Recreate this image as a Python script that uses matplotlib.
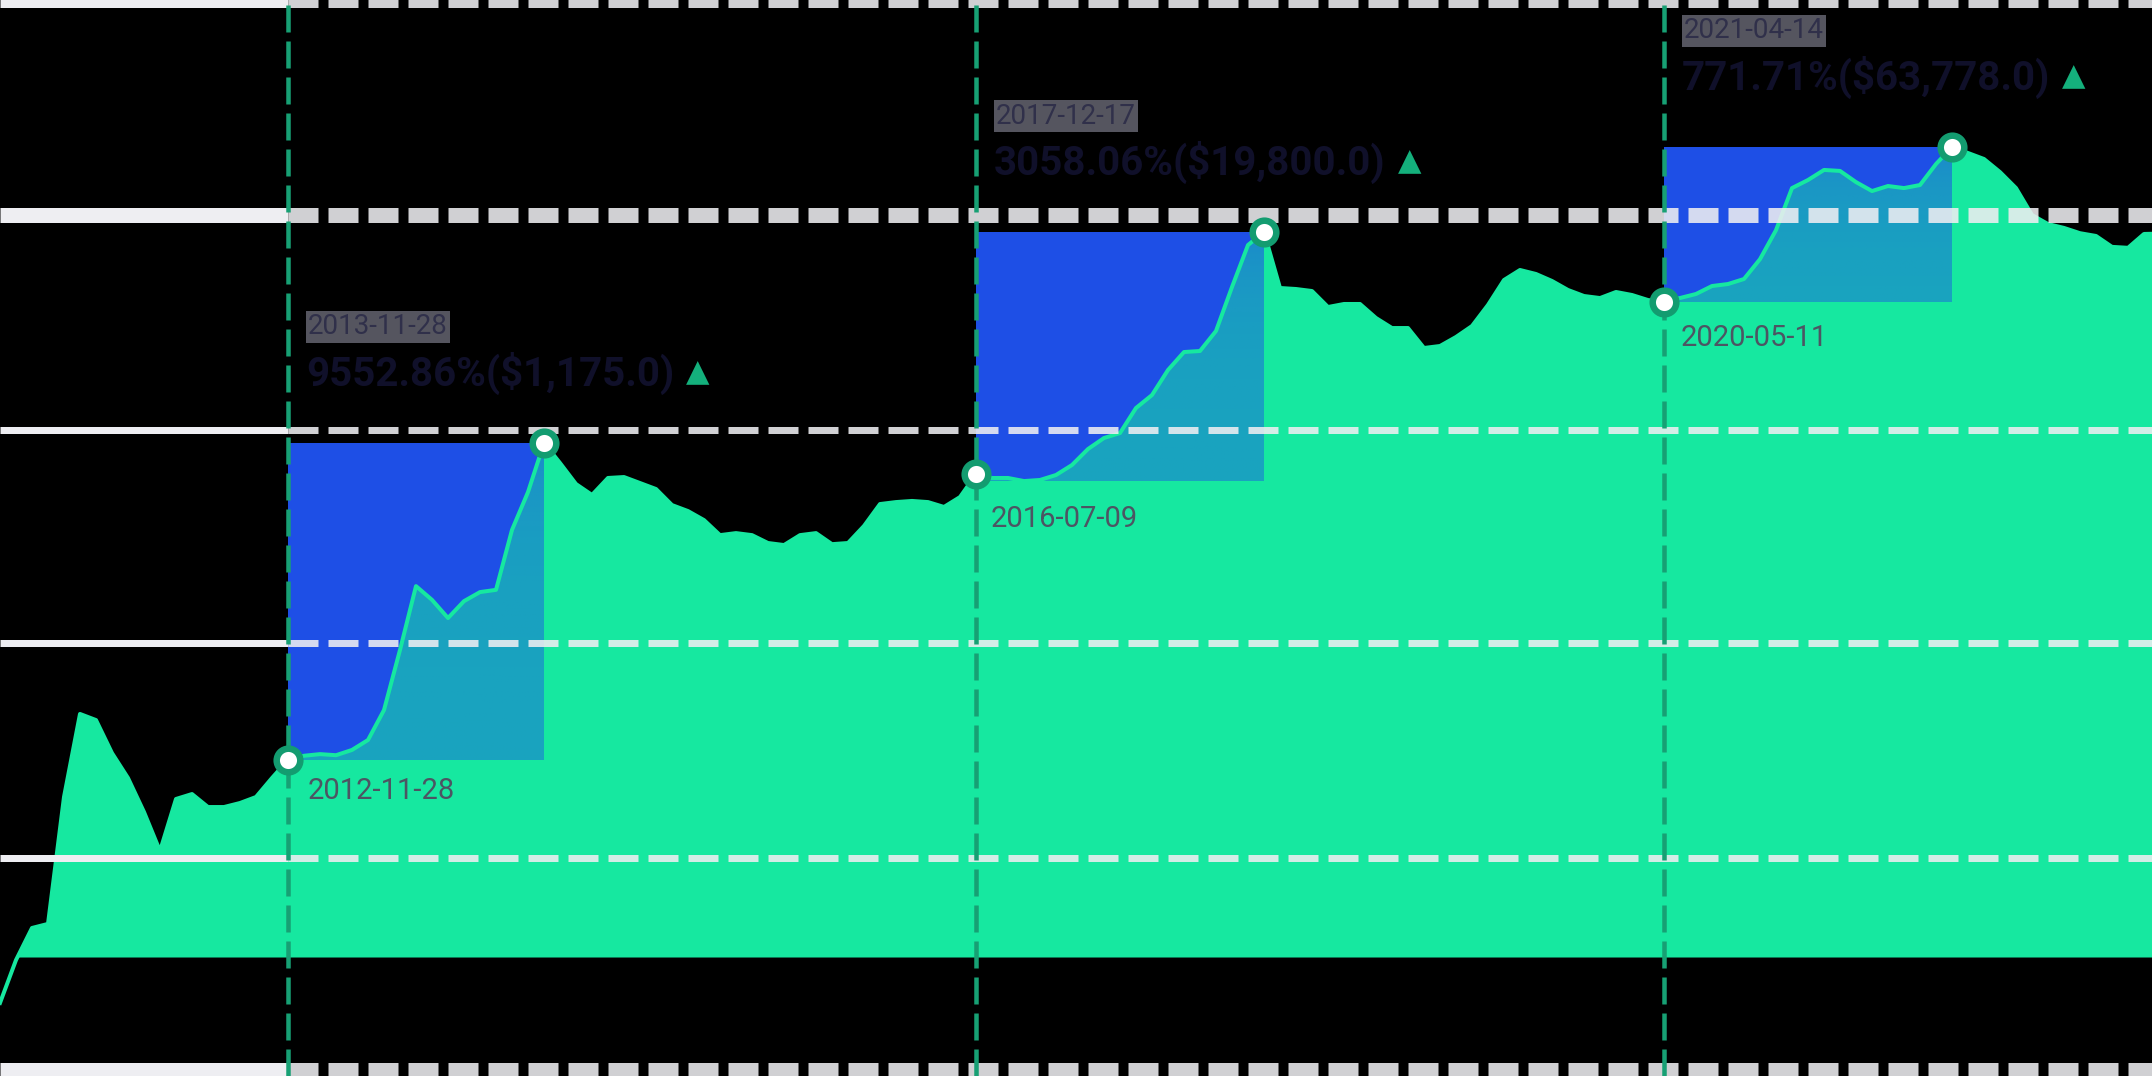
"""
plot.py  ---  price history (log scale) with the three halvings and the run-up to each peak.
"""
import numpy as np
import matplotlib
matplotlib.use("Agg")
import matplotlib.pyplot as plt
from matplotlib.colors import to_rgb

# price samples, evenly spaced along the x axis (USD, log scale)
price = [0.424, 0.769, 1.20, 1.27, 7.39, 23.4, 21.5, 13.6, 9.62, 6.00,
         3.49, 7.19, 7.70, 6.43, 6.43, 6.80, 7.39, 9.62, 12.35, 13.1,
         13.4, 13.2, 14.2, 16.3, 24.7, 56.9, 138, 114, 88.6, 112,
         127, 131, 301, 509, 1006, 762, 569, 489, 619, 627,
         577, 531, 425, 391, 345, 280, 288, 280, 251, 244,
         280, 288, 247, 251, 318, 431, 443, 450, 443, 414,
         475, 650, 619, 619, 593, 602, 645, 741, 925, 1078,
         1155, 1635, 1957, 2770, 3555, 3606, 4760, 8765, 15700, 18800,
         8645, 8525, 8290, 6640, 6925, 6925, 5700, 4960, 4960, 3760,
         3865, 4380, 5100, 6830, 9660, 11100, 10500, 9530, 8410, 7735,
         7520, 8180, 7845, 7315, 7115, 7520, 7955, 8885, 9135, 9795,
         12900, 19300, 34600, 38700, 44500, 43900, 37600, 33200, 35600, 34600,
         36100, 48300, 61200, 56300, 51800, 43200, 34600, 23800, 21000, 19900,
         18500, 17800, 15300, 15100, 18300, 18400]

halving_idx   = [18, 61, 104]
halving_dates = ["2012-11-28", "2016-07-09", "2020-05-11"]
peak_idx      = [34, 79, 122]
peak_dates    = ["2013-11-28", "2017-12-17", "2021-04-14"]
peak_gains    = ["9552.86%($1,175.0)", "3058.06%($19,800.0)", "771.71%($63,778.0)"]

grid_levels = [470700, 23800, 1204, 62.6, 3.17, 0.167]
heavy_grid  = {0, 1, 5}
fill_floor  = 0.802
y_range     = (0.1538, 470700)
x_range     = (0, 134.5)

GREEN = "#16e8a0"
RING  = "#139c70"
VLINE = "#17a074"
BLUE  = "#1e4fe6"
GRID  = "#eeeef2"

DPI = 100
PT = 72 / DPI                      # points per pixel

x = np.arange(len(price))
y = np.array(price)

fig = plt.figure(figsize=(21.52, 10.76), dpi=DPI, facecolor="black")
ax = fig.add_axes([0, 0, 1, 1])
ax.set_facecolor("black")
ax.set_yscale("log")
ax.axis("off")

# area under the curve
ax.fill_between(x, y, fill_floor, where=y >= fill_floor, interpolate=True,
                color=GREEN, lw=0, zorder=2)

# halving -> peak boxes, with the shaded run-up inside them
for h, p in zip(halving_idx, peak_idx):
    lo, hi = y[h:p + 1].min(), y[p]
    ax.fill_between([x[h], x[p]], lo, hi, color=BLUE, lw=0, zorder=1)
    seg = ax.fill_between(x[h:p + 1], y[h:p + 1], lo, facecolor="none", lw=0)
    grad = np.zeros((128, 2, 4))
    grad[..., :3] = to_rgb(BLUE)
    grad[..., 3] = np.linspace(0.62, 0.45, 128)[:, None]
    im = ax.imshow(grad, extent=(x[h], x[p], lo, hi), origin="upper",
                   aspect="auto", interpolation="bilinear", zorder=3)
    im.set_clip_path(seg.get_paths()[0], transform=ax.transData)

ax.plot(x, y, color=GREEN, lw=4 * PT, zorder=3.5, solid_joinstyle="round")

# horizontal guides: solid up to the first halving, dashed after it
for k, lev in enumerate(grid_levels):
    w = 15 if k in heavy_grid else 7
    ax.hlines(lev, x_range[0], x[halving_idx[0]], color=GRID, lw=w * PT, zorder=4)
    ax.hlines(lev, x[halving_idx[0]], x_range[1], color=GRID, alpha=0.88, lw=w * PT,
              linestyles=[(0, (30 / w, 10 / w))], zorder=4)

for h in halving_idx:
    ax.axvline(x[h], color=VLINE, lw=4.5 * PT, linestyle=(0, (6, 2)), zorder=5)

mk = halving_idx + peak_idx
ax.plot(x[mk], y[mk], "o", ms=17, mfc="white", mec=RING, mew=4.7, zorder=7)

date_off = [(20, -31), (15, -45), (17, -36)]
for h, lab, off in zip(halving_idx, halving_dates, date_off):
    ax.annotate(lab, (x[h], y[h]), xytext=off, textcoords="offset pixels",
                ha="left", va="center", fontsize=21, family="Roboto",
                color="#4c5563", zorder=8)

for h, p, d, g in zip(halving_idx, peak_idx, peak_dates, peak_gains):
    ax.annotate(d, (x[h], y[p]), xytext=(20, 116), textcoords="offset pixels",
                ha="left", va="center", fontsize=20, family="Roboto",
                color="#30304a", zorder=8,
                bbox=dict(boxstyle="square,pad=0.08", fc="#55555f", ec="none"))
    t = ax.annotate(g, (x[h], y[p]), xytext=(18, 70), textcoords="offset pixels",
                    ha="left", va="center", fontsize=29, family="Roboto",
                    fontweight="bold", color="#10102a", zorder=8)
    ax.annotate("\u25b2", xy=(1, 0.5), xycoords=t, xytext=(12, 0),
                textcoords="offset pixels", ha="left", va="center",
                fontsize=22, family="DejaVu Sans", color="#14b07c", zorder=8)

ax.set_xlim(*x_range)
ax.set_ylim(*y_range)

fig.savefig("out.png", dpi=DPI, facecolor="black")
